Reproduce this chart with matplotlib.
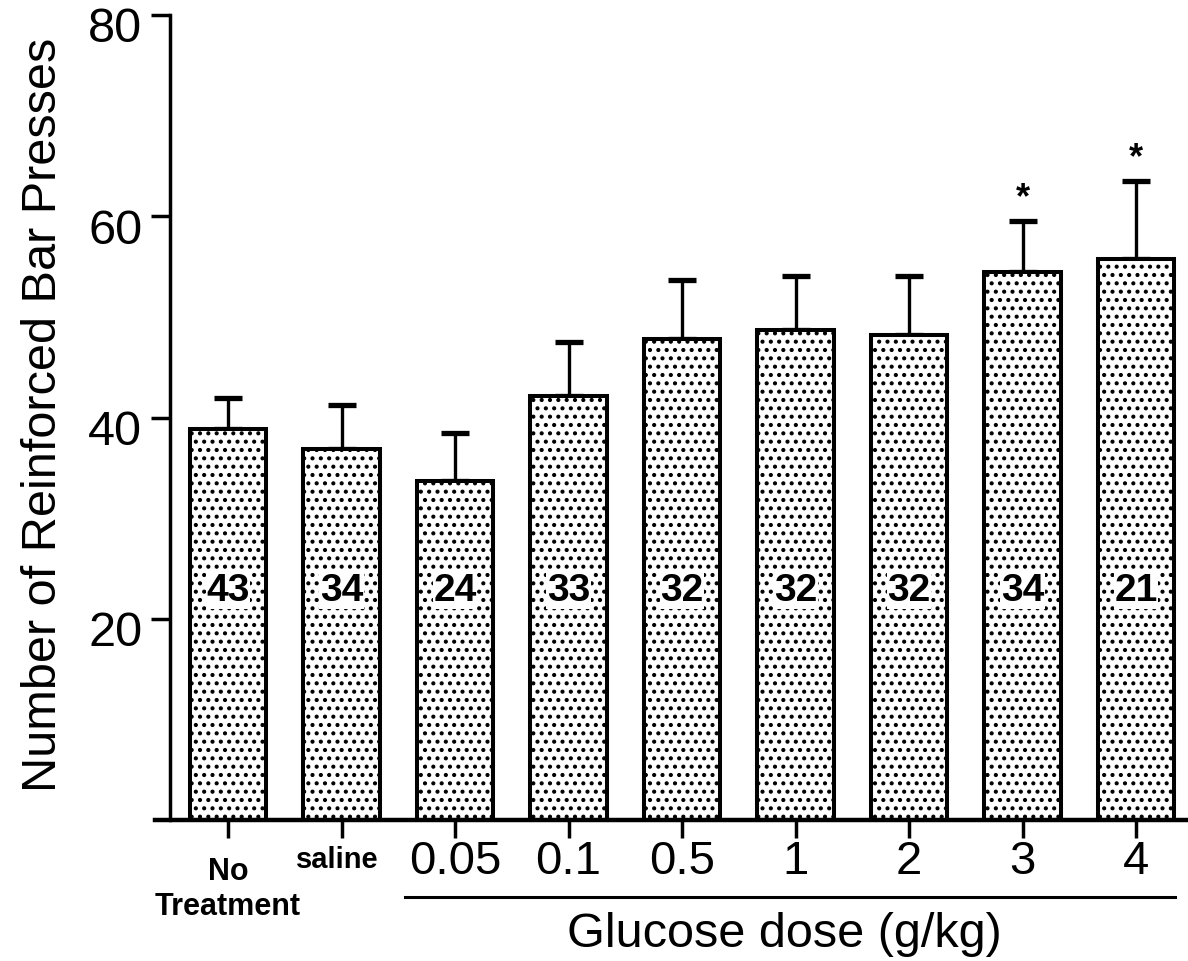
import numpy as np
import matplotlib
matplotlib.use("Agg")
import matplotlib.pyplot as plt
import matplotlib.hatch as mhatch
import matplotlib.transforms as mtrans

plt.rcParams['font.family'] = ['Liberation Sans', 'DejaVu Sans']
plt.rcParams['hatch.linewidth'] = 0.8


# dot screen closer to the printed one than the stock '.' hatch
class ScreenDots(mhatch.Circles):
    size = 0.18
    filled = True

    def __init__(self, hatch, density):
        self.num_rows = hatch.count('.') * 12
        super().__init__(hatch, density)


mhatch._hatch_types = [ScreenDots if t is mhatch.SmallFilledCircles else t
                       for t in mhatch._hatch_types]

groups = ["No\nTreatment", "saline", "0.05", "0.1", "0.5", "1", "2", "3", "4"]
means = [38.9, 36.9, 33.7, 42.1, 47.8, 48.7, 48.2, 54.5, 55.8]
sem = [3.0, 4.3, 4.8, 5.4, 5.9, 5.4, 5.9, 5.0, 7.7]
n_rats = [43, 34, 24, 33, 32, 32, 32, 34, 21]
signif = [False, False, False, False, False, False, False, True, True]

x = np.arange(len(groups))

fig = plt.figure(figsize=(11.88, 9.61), dpi=100)
ax = fig.add_axes([0.1431, 0.1467, 0.8569, 0.8377])

ax.bar(x, means, width=0.67, color='white', edgecolor='black',
       linewidth=2.9, hatch='.', zorder=2)
ax.errorbar(x, means, yerr=[np.zeros(len(x)), sem], fmt='none',
            ecolor='black', elinewidth=2.4, capsize=10, capthick=3.8, zorder=1)

for xi, m, s, n, sig in zip(x, means, sem, n_rats, signif):
    ax.text(xi, 22.8, str(n), ha='center', va='center', fontsize=28,
            fontweight='bold', zorder=3,
            bbox=dict(facecolor='white', edgecolor='none', pad=0.5))
    if sig:
        ax.text(xi, m + s + 2.2, "*", ha='center', va='center',
                fontsize=26, fontweight='bold')

ax.set_xlim(-0.511, 8.458)
ax.set_ylim(0, 80)
ax.set_yticks([20, 40, 60, 80])
ax.set_yticklabels(["20", "40", "60", "80"], fontsize=35)
ax.tick_params(axis='y', length=14, width=2.5, pad=6)
ax.tick_params(axis='x', length=13, width=2.5, pad=8)
ax.set_xticks(x)
ax.set_xticklabels([""] * len(x))

# the printed tick numbers sit a little below their ticks
shift = mtrans.ScaledTranslation(0, -10 / 100, fig.dpi_scale_trans)
for lbl in ax.get_yticklabels():
    lbl.set_transform(lbl.get_transform() + shift)

for side in ['top', 'right']:
    ax.spines[side].set_visible(False)
ax.spines['left'].set_linewidth(2.5)
ax.spines['bottom'].set_visible(False)
ax.plot([-0.643, 8.458], [0, 0], color='black', linewidth=3.2,
        clip_on=False, zorder=4)

# category labels under the axis
first, second = groups[0].split("\n")
ax.text(0, -5.17, first, ha='center', va='center', fontsize=22,
        fontweight='bold')
ax.text(0, -8.65, second, ha='center', va='center', fontsize=22,
        fontweight='bold')
ax.text(0.96, -3.98, groups[1], ha='center', va='center', fontsize=21,
        fontweight='bold')
for xi in x[2:]:
    ax.text(xi, -4.2, groups[xi], ha='center', va='center', fontsize=34)

ax.plot([1.56, 8.34], [-7.65, -7.65], color='black', linewidth=2.2,
        clip_on=False)
ax.text(4.90, -11.4, "Glucose dose (g/kg)", ha='center', va='center',
        fontsize=35)

ax.set_ylabel("Number of Reinforced Bar Presses", fontsize=35)
ax.yaxis.set_label_coords(-0.102, 0.503)

fig.savefig("out.png", dpi=100)
